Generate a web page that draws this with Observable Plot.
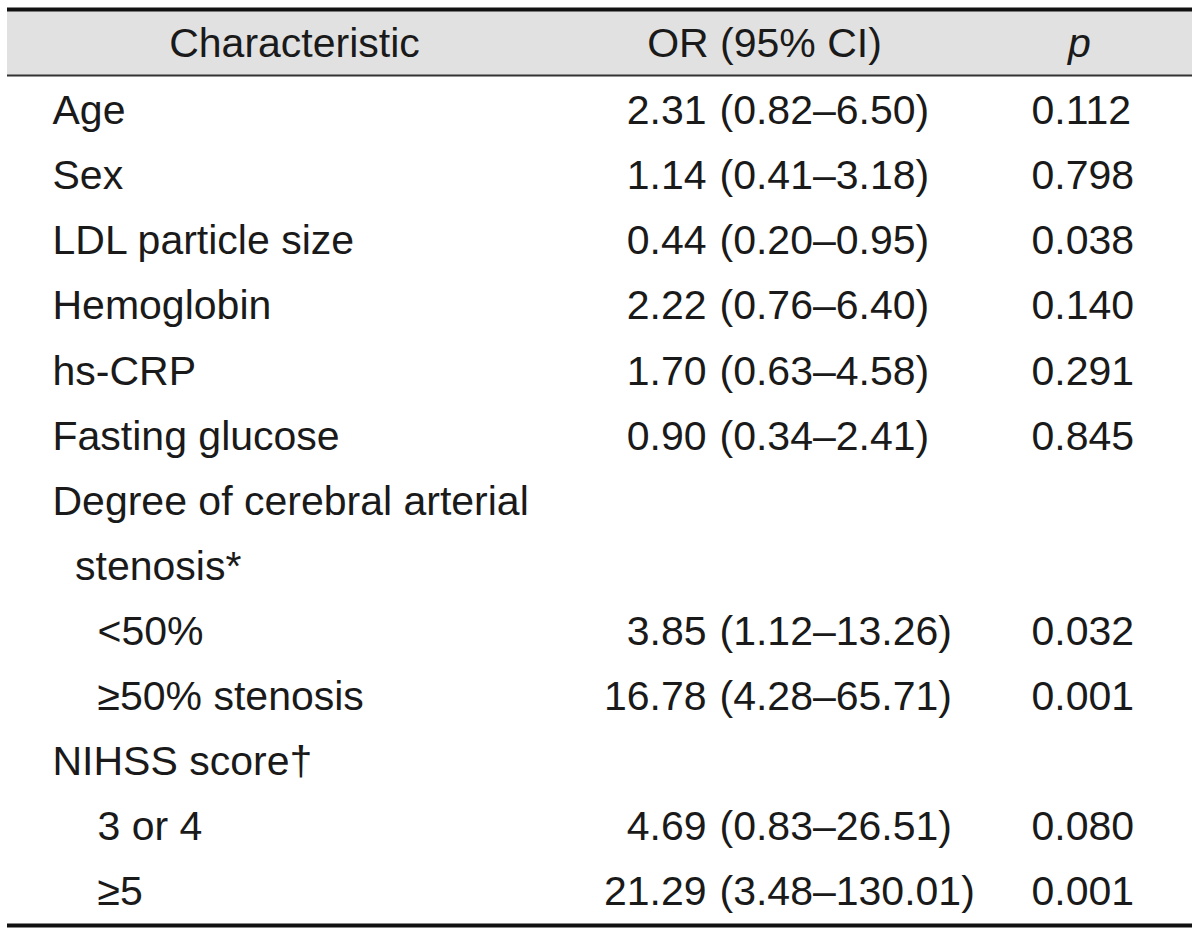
<!DOCTYPE html>
<html>
<head>
<meta charset="utf-8">
<script src="https://cdn.jsdelivr.net/npm/d3@7"></script>
<script src="https://cdn.jsdelivr.net/npm/@observablehq/plot@0.6"></script>
<style>
  html, body { margin: 0; padding: 0; background: #ffffff; }
  #chart svg { display: block; }
</style>
</head>
<body>
<div id="chart"></div>
<script>
// ---- Data ----
const headers = ["Characteristic", "OR (95% CI)", "p"];
const labels = [
  "Age", "Sex", "LDL particle size", "Hemoglobin", "hs-CRP", "Fasting glucose",
  "Degree of cerebral arterial", "stenosis*", "<50%", "≥50% stenosis",
  "NIHSS score†", "3 or 4", "≥5"
];
const levels = [0, 0, 0, 0, 0, 0, 0, 1, 2, 2, 0, 2, 2];
const orValues = ["2.31", "1.14", "0.44", "2.22", "1.70", "0.90", null, null, "3.85", "16.78", null, "4.69", "21.29"];
const ciLow = ["0.82", "0.41", "0.20", "0.76", "0.63", "0.34", null, null, "1.12", "4.28", null, "0.83", "3.48"];
const ciHigh = ["6.50", "3.18", "0.95", "6.40", "4.58", "2.41", null, null, "13.26", "65.71", null, "26.51", "130.01"];
const pValues = ["0.112", "0.798", "0.038", "0.140", "0.291", "0.845", null, null, "0.032", "0.001", null, "0.080", "0.001"];

const rows = labels.map((label, i) => ({
  row: i, label, level: levels[i], or: orValues[i], lo: ciLow[i], hi: ciHigh[i], p: pValues[i]
}));
const valued = rows.filter(d => d.or != null);
const headerRow = headers.map((h, i) => ({row: -1, text: h, col: i}));

// ---- Layout (not data) ----
const FONT = "Liberation Sans";
const FS = 41;
const INK = "#1a1a1a";
const labelX = 52, indentStep = 22.5;
const orEndX = 706, ciStartX = 719, pStartX = 1031;
const headerX = [294, 764, 1079];

const chart = Plot.plot({
  width: 1200,
  height: 935,
  marginLeft: 7,
  marginRight: 8,
  marginTop: 0,
  marginBottom: 0,
  x: {domain: [7, 1192], range: [7, 1192], axis: null},
  y: {domain: [-1.5, 12.5], range: [11, 922], axis: null},
  marks: [
    // header band
    Plot.rect([0], {y1: -1.5, y2: -0.5, fill: "#e1e1e1"}),
    Plot.ruleY([-1.5], {stroke: "#111111", strokeWidth: 4, dy: -2}),
    Plot.ruleY([-0.5], {stroke: "#333333", strokeWidth: 2, dy: -1}),
    Plot.ruleY([12.5], {stroke: "#111111", strokeWidth: 4, dy: 3}),
    // header text
    Plot.text(headerRow.filter(d => d.col < 2), {
      x: d => headerX[d.col], y: "row", text: "text",
      textAnchor: "middle", fontFamily: FONT, fontSize: FS, fill: INK
    }),
    Plot.text(headerRow.filter(d => d.col === 2), {
      x: d => headerX[d.col], y: "row", text: "text",
      textAnchor: "middle", fontFamily: FONT, fontSize: FS, fontStyle: "italic", fill: INK
    }),
    // labels
    Plot.text(rows, {
      x: d => labelX + d.level * indentStep, y: "row", text: "label",
      textAnchor: "start", fontFamily: FONT, fontSize: FS, fill: INK, dy: 2
    }),
    // OR
    Plot.text(valued, {
      x: orEndX, y: "row", text: "or",
      textAnchor: "end", fontFamily: FONT, fontSize: FS, fill: INK, dy: 2
    }),
    // CI
    Plot.text(valued, {
      x: ciStartX, y: "row", text: d => `(${d.lo}–${d.hi})`,
      textAnchor: "start", fontFamily: FONT, fontSize: FS, fill: INK, dy: 2
    }),
    // p
    Plot.text(valued, {
      x: pStartX, y: "row", text: "p",
      textAnchor: "start", fontFamily: FONT, fontSize: FS, fill: INK, dy: 2
    })
  ]
});
document.getElementById("chart").appendChild(chart);
</script>
</body>
</html>
